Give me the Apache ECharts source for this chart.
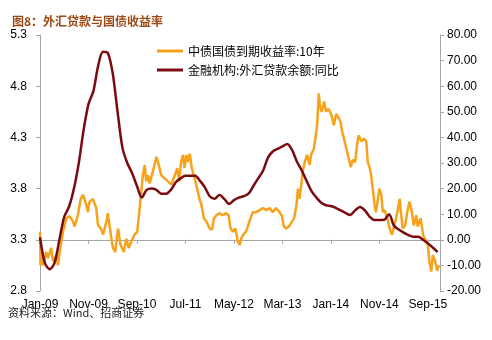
<!DOCTYPE html>
<html>
<head>
<meta charset="utf-8">
<script src="https://cdn.jsdelivr.net/npm/echarts@6/dist/echarts.min.js"></script>
<style>
html,body{margin:0;padding:0;background:#fff;}
#chart{width:492px;height:340px;}
</style>
</head>
<body>
<div id="chart"></div>
<script>
// x positions are month offsets from Jan-2009
const xTickLabels = ['Jan-09','Nov-09','Sep-10','Jul-11','May-12','Mar-13','Jan-14','Nov-14','Sep-15'];
const leftTicks = [2.8, 3.3, 3.8, 4.3, 4.8, 5.3];

// 中债国债到期收益率:10年 (month offset, value)
const yieldMonth = [0,0.1,0.28,0.62,1.3,1.65,2.3,2.68,3.37,3.71,4.05,4.74,5.43,6.1,6.8,7.15,7.8,8.4,8.87,9.55,9.9,10.2,10.9,11.6,11.96,12.6,13,13.7,14,14.6,15.05,15.5,16.1,16.6,17.3,17.8,18.3,18.8,19.5,20.06,20.55,20.9,21.2,21.6,21.9,22.3,22.6,23.3,24,24.5,25,25.7,26.4,27.1,27.8,28.3,28.7,29.1,29.5,29.8,30.2,30.5,30.9,31.3,31.9,32.4,32.9,33.3,33.8,34.3,35,35.5,35.9,36.4,37,37.7,38.4,38.9,39.3,39.8,40.3,40.8,41.2,41.5,41.9,42.5,43.2,43.9,44.6,45.3,46,46.7,47.4,48,48.7,49.4,49.9,50.3,50.8,51.5,51.8,52.4,52.9,53.2,53.5,53.9,54.2,54.6,55.1,55.6,55.9,56.5,57,57.2,57.5,57.7,58.1,58.6,59,59.5,60.1,60.6,61.1,61.6,62,62.3,62.7,63.2,63.5,64.1,64.5,65,65.4,65.7,66.3,66.8,67.3,67.6,68,68.3,68.7,69,69.3,69.7,70,70.4,70.7,71.1,71.4,71.8,72.1,72.6,73.1,73.7,74.2,74.5,74.8,75.3,75.9,76.2,76.7,77.1,77.6,77.9,78.5,79,79.4,80,80.3,80.7,81,81.5,81.9,82.3];
const yieldValue = [3.38,3.05,3.22,3.05,3.18,3.12,3.22,3.09,3.15,3.05,3.18,3.38,3.51,3.53,3.48,3.43,3.54,3.70,3.74,3.64,3.57,3.67,3.70,3.61,3.44,3.41,3.35,3.48,3.56,3.35,3.22,3.18,3.41,3.25,3.18,3.31,3.22,3.28,3.35,3.38,3.61,3.77,3.93,4.03,3.87,3.93,3.85,3.97,4.11,4.03,3.93,3.90,3.87,3.84,3.93,4.00,3.87,4.06,4.13,4.00,4.13,4.06,4.14,4.00,3.90,3.80,3.70,3.64,3.51,3.48,3.41,3.40,3.51,3.54,3.56,3.54,3.56,3.54,3.41,3.38,3.41,3.28,3.25,3.31,3.35,3.38,3.48,3.57,3.57,3.59,3.61,3.59,3.61,3.57,3.61,3.57,3.53,3.43,3.41,3.44,3.43,3.51,3.64,3.80,3.70,3.84,3.97,4.06,4.13,4.03,4.13,4.19,4.36,4.45,4.73,4.62,4.55,4.65,4.55,4.58,4.52,4.42,4.53,4.49,4.45,4.36,4.29,4.19,4.13,4.01,4.08,4.06,4.23,4.32,4.26,4.29,4.26,4.06,4.00,3.93,3.77,3.64,3.57,3.70,3.80,3.74,3.57,3.59,3.54,3.48,3.41,3.35,3.44,3.57,3.70,3.54,3.41,3.44,3.61,3.67,3.57,3.44,3.54,3.43,3.51,3.35,3.31,3.25,3.09,2.99,3.15,3.09,3.00,3.05];

// 金融机构:外汇贷款余额:同比 (monthly, from Jan-09)
const loanGrowth = [1,-9,-11.5,-9,0,9,13,20,30,43,53,58,68,73.5,73,65,50,36,30,26,21,16.5,19.5,20,19.5,18,18,19.5,22.5,24,25,25,25,23,20.5,17,16,17.5,16,14,15.5,16.5,17,18,21,24,27,32,34.5,35.5,36.5,37.4,35,30.5,27,23,19,16.5,14.5,13.5,13.2,12.5,11.5,10.5,9.7,11.5,12.8,11.5,9,7.7,7.7,7.8,10,5.5,4,2.8,1.8,1.2,1.2,0,-1.4,-3,-4.8];

const yieldData = yieldMonth.map((m, i) => [m, yieldValue[i]]);
const loanData = loanGrowth.map((v, i) => [i, v]);

const axisLineStyle = {show: true, lineStyle: {color: '#a6a6a6', width: 1}};
const labelFont = {color: '#000', fontSize: 12, fontFamily: 'Liberation Sans, Arial, sans-serif'};

const chart = echarts.init(document.getElementById('chart'), null, {renderer: 'canvas'});
chart.setOption({
  animation: false,
  backgroundColor: '#fff',
  grid: {left: 40, right: 52, top: 35, bottom: 49, containLabel: false},
  title: {
    text: '图8：外汇贷款与国债收益率',
    left: 7, top: 10,
    textStyle: {color: '#9c4a16', fontSize: 12, fontWeight: 'bold', fontFamily: 'Noto Sans CJK SC'}
  },
  graphic: [{
    type: 'text', left: 8, top: 307,
    style: {text: '资料来源：Wind、招商证券', fill: '#222', fontSize: 11, fontFamily: 'Noto Sans CJK SC'}
  }],
  legend: {
    orient: 'vertical', left: 152, top: 39, itemWidth: 26, itemHeight: 3, itemGap: 5,
    icon: 'rect',
    textStyle: {color: '#000', fontSize: 12, lineHeight: 14, fontFamily: 'Noto Sans CJK SC'},
    data: ['中债国债到期收益率:10年', '金融机构:外汇贷款余额:同比']
  },
  xAxis: {
    type: 'value', min: 0, max: 82.5, interval: 10,
    axisLine: axisLineStyle,
    axisTick: {show: true, length: 4, lineStyle: {color: '#a6a6a6'}},
    splitLine: {show: false},
    axisLabel: Object.assign({}, labelFont, {
      margin: 8,
      formatter: v => (Math.abs(v / 10 - Math.round(v / 10)) < 1e-6 && xTickLabels[Math.round(v / 10)]) || ''
    })
  },
  yAxis: [{
    type: 'value', min: 2.8, max: 5.3, interval: 0.5, position: 'left',
    axisLine: axisLineStyle,
    axisTick: {show: true, length: 4, lineStyle: {color: '#a6a6a6'}},
    splitLine: {show: false},
    axisLabel: Object.assign({}, labelFont, {margin: 13, formatter: v => v.toFixed(1)})
  }, {
    type: 'value', min: -20, max: 80, interval: 10, position: 'right',
    axisLine: axisLineStyle,
    axisTick: {show: true, length: 4, lineStyle: {color: '#a6a6a6'}},
    splitLine: {show: false},
    axisLabel: Object.assign({}, labelFont, {margin: 7, formatter: v => v.toFixed(2)})
  }],
  series: [{
    name: '中债国债到期收益率:10年', type: 'line', yAxisIndex: 0,
    data: yieldData, symbol: 'none', smooth: false,
    lineStyle: {color: '#f7a21b', width: 2.5}, itemStyle: {color: '#f7a21b'}
  }, {
    name: '金融机构:外汇贷款余额:同比', type: 'line', yAxisIndex: 1,
    data: loanData, symbol: 'none', smooth: 0.3,
    lineStyle: {color: '#7a0c10', width: 2.5}, itemStyle: {color: '#7a0c10'}
  }]
});
</script>
</body>
</html>
